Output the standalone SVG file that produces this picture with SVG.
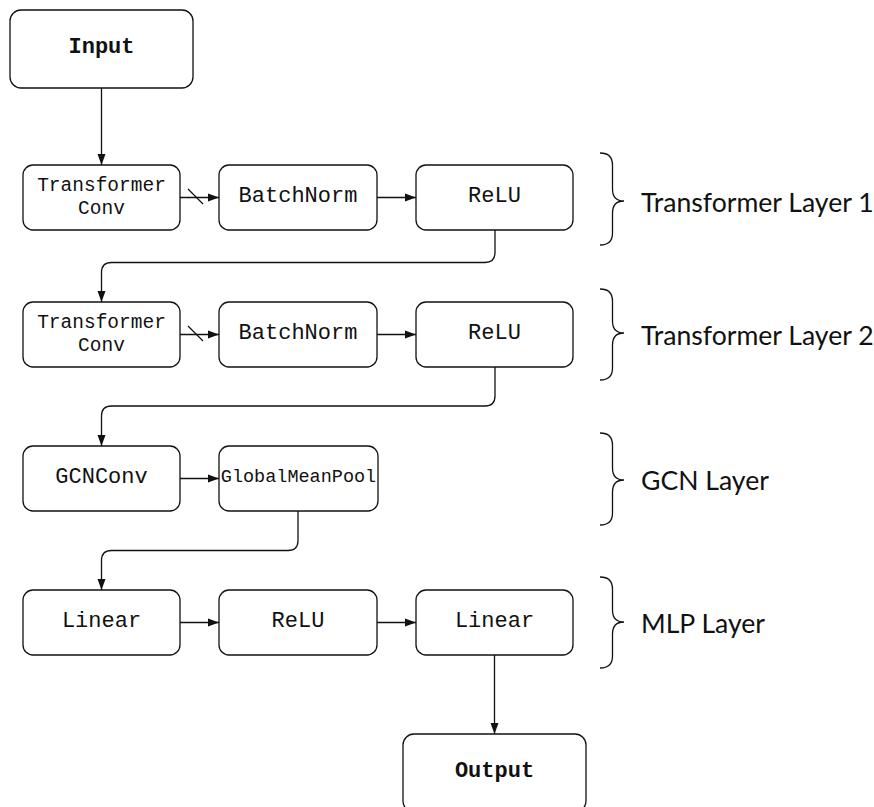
<svg xmlns="http://www.w3.org/2000/svg" width="874" height="807" viewBox="0 0 874 807">
<defs>
<style>
.box{fill:#fff;stroke:#111;stroke-width:1.3}
.t{font-family:"Liberation Mono","DejaVu Sans Mono",monospace;font-size:22px;fill:#111;text-anchor:middle}
.b{font-weight:bold}
.s{font-size:19.5px}
.g{font-size:18.5px}
.lab{font-family:Lato,"Open Sans",sans-serif;font-size:26.6px;fill:#111}
.c{fill:none;stroke:#111;stroke-width:1.3}
.br{fill:none;stroke:#111;stroke-width:1.3}
</style>
<marker id="ah" markerUnits="userSpaceOnUse" markerWidth="12" markerHeight="10" refX="11" refY="4" orient="auto" viewBox="0 0 12 8">
<path d="M0,0 L11,4 L0,8 z" fill="#111"/>
</marker>
</defs>
<rect width="874" height="807" fill="#fff"/>

<g id="connectors">
<path class="c" d="M101.5,88 L101.5,165" marker-end="url(#ah)"/>
<path class="c" d="M180,197.5 L219,197.5" marker-end="url(#ah)"/>
<path class="c" d="M188,189 L203,204"/>
<path class="c" d="M377,197.5 L416,197.5" marker-end="url(#ah)"/>
<path class="c" d="M495,230 L495,252.5 Q495,262.5 485,262.5 L111.5,262.5 Q101.5,262.5 101.5,272.5 L101.5,302" marker-end="url(#ah)"/>
<path class="c" d="M180,334.5 L219,334.5" marker-end="url(#ah)"/>
<path class="c" d="M188,326 L203,341"/>
<path class="c" d="M377,334.5 L416,334.5" marker-end="url(#ah)"/>
<path class="c" d="M495,367 L495,396 Q495,406 485,406 L111.5,406 Q101.5,406 101.5,416 L101.5,446" marker-end="url(#ah)"/>
<path class="c" d="M180,478.5 L219,478.5" marker-end="url(#ah)"/>
<path class="c" d="M298,511 L298,540.5 Q298,550.5 288,550.5 L111.5,550.5 Q101.5,550.5 101.5,560.5 L101.5,590" marker-end="url(#ah)"/>
<path class="c" d="M180,622.5 L219,622.5" marker-end="url(#ah)"/>
<path class="c" d="M377,622.5 L416,622.5" marker-end="url(#ah)"/>
<path class="c" d="M494.5,655 L494.5,734" marker-end="url(#ah)"/>
</g>

<g id="input"><rect class="box" x="10" y="10" width="183" height="78" rx="11"/><text class="t b" x="101.5" y="53">Input</text></g>

<g id="tconv1"><rect class="box" x="23" y="165" width="157" height="65" rx="10"/><text class="t s" x="101.5" y="191">Transformer</text><text class="t s" x="101.5" y="214">Conv</text></g>
<g id="bn1"><rect class="box" x="219" y="165" width="158" height="65" rx="10"/><text class="t" x="298" y="202">BatchNorm</text></g>
<g id="relu1"><rect class="box" x="416" y="165" width="157" height="65" rx="10"/><text class="t" x="494.5" y="202">ReLU</text></g>

<g id="tconv2"><rect class="box" x="23" y="302" width="157" height="65" rx="10"/><text class="t s" x="101.5" y="328">Transformer</text><text class="t s" x="101.5" y="351">Conv</text></g>
<g id="bn2"><rect class="box" x="219" y="302" width="158" height="65" rx="10"/><text class="t" x="298" y="339">BatchNorm</text></g>
<g id="relu2"><rect class="box" x="416" y="302" width="157" height="65" rx="10"/><text class="t" x="494.5" y="339">ReLU</text></g>

<g id="gcnconv"><rect class="box" x="23" y="446" width="157" height="65" rx="10"/><text class="t" x="101.5" y="483">GCNConv</text></g>
<g id="gmp"><rect class="box" x="219" y="446" width="159" height="65" rx="10"/><text class="t g" x="298.5" y="482">GlobalMeanPool</text></g>

<g id="linear1"><rect class="box" x="23" y="590" width="157" height="65" rx="10"/><text class="t" x="101.5" y="627">Linear</text></g>
<g id="relu3"><rect class="box" x="219" y="590" width="158" height="65" rx="10"/><text class="t" x="298" y="627">ReLU</text></g>
<g id="linear2"><rect class="box" x="416" y="590" width="157" height="65" rx="10"/><text class="t" x="494.5" y="627">Linear</text></g>

<g id="output"><rect class="box" x="403" y="734" width="183" height="78" rx="11"/><text class="t b" x="494.5" y="777">Output</text></g>

<g id="brace1"><path class="br" d="M600,153 Q612.5,153 612.5,165 L612.5,189 Q612.5,201 624,201 Q612.5,201 612.5,213 L612.5,233 Q612.5,245 600,245"/><text class="lab" x="641" y="211.5">Transformer Layer 1</text></g>
<g id="brace2"><path class="br" d="M600,289 Q612.5,289 612.5,301 L612.5,321 Q612.5,333 624,333 Q612.5,333 612.5,345 L612.5,368 Q612.5,380 600,380"/><text class="lab" x="641" y="345">Transformer Layer 2</text></g>
<g id="brace3"><path class="br" d="M600,433 Q612.5,433 612.5,445 L612.5,468 Q612.5,480 624,480 Q612.5,480 612.5,492 L612.5,513 Q612.5,525 600,525"/><text class="lab" x="641" y="490">GCN Layer</text></g>
<g id="brace4"><path class="br" d="M600,577 Q612.5,577 612.5,589 L612.5,610 Q612.5,622 624,622 Q612.5,622 612.5,634 L612.5,656 Q612.5,668 600,668"/><text class="lab" x="641" y="633">MLP Layer</text></g>
</svg>
